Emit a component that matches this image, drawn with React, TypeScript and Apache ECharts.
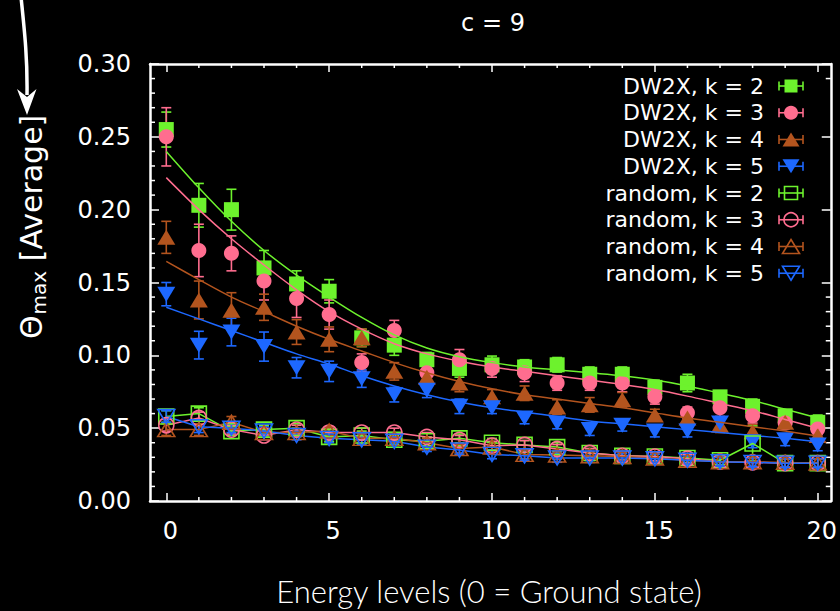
import React, { useEffect, useRef } from 'react';
import * as echarts from 'echarts';

// Energy levels (0 = ground state)
const levels = [0, 1, 2, 3, 4, 5, 6, 7, 8, 9, 10, 11, 12, 13, 14, 15, 16, 17, 18, 19, 20];

// D-Wave 2X averages and their error half-widths
const dw2xK2 = [0.255, 0.203, 0.200, 0.160, 0.149, 0.144, 0.112, 0.107, 0.097, 0.091, 0.0935, 0.092, 0.0935, 0.087, 0.087, 0.078, 0.081, 0.0715, 0.065, 0.0585, 0.054];
const dw2xK3 = [0.250, 0.172, 0.170, 0.151, 0.139, 0.128, 0.095, 0.117, 0.088, 0.097, 0.091, 0.088, 0.081, 0.081, 0.081, 0.0715, 0.0605, 0.064, 0.0585, 0.0536, 0.0495];
const dw2xK4 = [0.181, 0.138, 0.131, 0.133, 0.116, 0.111, 0.112, 0.089, 0.085, 0.081, 0.0715, 0.074, 0.0645, 0.066, 0.0695, 0.059, 0.057, 0.052, 0.0475, 0.054, 0.045];
const dw2xK5 = [0.142, 0.107, 0.116, 0.106, 0.0915, 0.089, 0.084, 0.073, 0.076, 0.065, 0.064, 0.057, 0.0536, 0.049, 0.052, 0.048, 0.048, 0.0536, 0.0406, 0.042, 0.0385];
const dw2xErrK2 = [0.012, 0.015, 0.014, 0.012, 0.009, 0.008, 0.006, 0.007, 0.005, 0.006, 0.006, 0.005, 0.005, 0.005, 0.005, 0.005, 0.006, 0.004, 0.005, 0.004, 0.005];
const dw2xErrK3 = [0.020, 0.018, 0.012, 0.013, 0.013, 0.010, 0.006, 0.007, 0.006, 0.007, 0.006, 0.006, 0.005, 0.005, 0.006, 0.005, 0.004, 0.006, 0.005, 0.004, 0.004];
const dw2xErrK4 = [0.011, 0.013, 0.012, 0.009, 0.0085, 0.0085, 0.006, 0.006, 0.006, 0.006, 0.005, 0.005, 0.005, 0.005, 0.005, 0.004, 0.005, 0.005, 0.005, 0.004, 0.004];
const dw2xErrK5 = [0.008, 0.0095, 0.0095, 0.010, 0.007, 0.007, 0.006, 0.005, 0.005, 0.005, 0.004, 0.004, 0.004, 0.004, 0.004, 0.004, 0.004, 0.004, 0.004, 0.004, 0.004];

// Fitted trend curves for the D-Wave 2X data
const fitK2 = [0.240, 0.215, 0.192, 0.172, 0.155, 0.140, 0.126, 0.114, 0.105, 0.099, 0.095, 0.092, 0.090, 0.088, 0.086, 0.083, 0.079, 0.074, 0.069, 0.063, 0.057];
const fitK3 = [0.222, 0.200, 0.180, 0.162, 0.145, 0.130, 0.118, 0.108, 0.101, 0.096, 0.092, 0.089, 0.086, 0.083, 0.080, 0.0765, 0.072, 0.067, 0.062, 0.056, 0.050];
const fitK4 = [0.1645, 0.152, 0.140, 0.130, 0.120, 0.111, 0.103, 0.095, 0.088, 0.082, 0.077, 0.073, 0.070, 0.067, 0.064, 0.0605, 0.057, 0.054, 0.051, 0.048, 0.0447];
const fitK5 = [0.133, 0.125, 0.117, 0.109, 0.101, 0.094, 0.086, 0.079, 0.073, 0.068, 0.064, 0.061, 0.058, 0.055, 0.053, 0.051, 0.049, 0.047, 0.045, 0.043, 0.0406];

// Random-instance averages and their error half-widths
const rndK2 = [0.058, 0.060, 0.048, 0.049, 0.050, 0.044, 0.045, 0.042, 0.041, 0.043, 0.040, 0.0385, 0.037, 0.033, 0.031, 0.0305, 0.0295, 0.028, 0.0395, 0.026, 0.026];
const rndK3 = [0.052, 0.057, 0.049, 0.045, 0.049, 0.047, 0.047, 0.047, 0.044, 0.042, 0.038, 0.0385, 0.0357, 0.033, 0.031, 0.0305, 0.029, 0.027, 0.0265, 0.026, 0.026];
const rndK4 = [0.049, 0.049, 0.054, 0.047, 0.047, 0.048, 0.043, 0.043, 0.040, 0.036, 0.037, 0.032, 0.0316, 0.031, 0.0305, 0.0295, 0.028, 0.027, 0.027, 0.0265, 0.026];
const rndK5 = [0.058, 0.051, 0.050, 0.048, 0.045, 0.043, 0.042, 0.041, 0.037, 0.035, 0.032, 0.031, 0.0296, 0.0295, 0.0295, 0.029, 0.028, 0.027, 0.0265, 0.026, 0.026];
const rndErrK2 = [0.004, 0.004, 0.003, 0.003, 0.003, 0.003, 0.003, 0.003, 0.003, 0.003, 0.003, 0.003, 0.003, 0.003, 0.003, 0.003, 0.003, 0.003, 0.012, 0.003, 0.003];
const rndErrK3 = [0.004, 0.004, 0.003, 0.003, 0.003, 0.003, 0.003, 0.003, 0.003, 0.003, 0.003, 0.003, 0.003, 0.003, 0.003, 0.003, 0.003, 0.003, 0.003, 0.003, 0.003];
const rndErrK4 = [0.004, 0.004, 0.004, 0.003, 0.003, 0.003, 0.003, 0.003, 0.003, 0.003, 0.003, 0.003, 0.003, 0.003, 0.003, 0.003, 0.003, 0.003, 0.003, 0.003, 0.003];
const rndErrK5 = [0.004, 0.004, 0.003, 0.003, 0.003, 0.003, 0.003, 0.003, 0.003, 0.003, 0.003, 0.003, 0.003, 0.003, 0.003, 0.003, 0.003, 0.003, 0.003, 0.003, 0.003];

const seriesNames = [
  'DW2X, k = 2', 'DW2X, k = 3', 'DW2X, k = 4', 'DW2X, k = 5',
  'random, k = 2', 'random, k = 3', 'random, k = 4', 'random, k = 5',
];

// Axis ticks
const X_MIN = -0.5;
const X_MAX = 20.4;
const Y_MIN = 0;
const Y_MAX = 0.3;
const xMajorTicks = [0, 5, 10, 15, 20];
const xMinorTicks = [1, 2, 3, 4, 6, 7, 8, 9, 11, 12, 13, 14, 16, 17, 18, 19];
const yLeftMinorTicks = [0.01, 0.02, 0.03, 0.04, 0.06, 0.07, 0.08, 0.09, 0.11, 0.12, 0.13, 0.14, 0.16, 0.17, 0.18, 0.19, 0.21, 0.22, 0.23, 0.24, 0.26, 0.27, 0.28, 0.29];
const yRightMinorTicks = [0.01, 0.02, 0.03, 0.04, 0.06, 0.07, 0.08, 0.09, 0.11, 0.12, 0.13, 0.14, 0.29];

const titleText = 'c = 9';
const xTitle = 'Energy levels (0 = Ground state)';

const GREEN = '#6df22d';
const PINK = '#ff6d8f';
const BROWN = '#b3541e';
const BLUE = '#1d68ff';
const WHITE = '#ffffff';
const FONT = '"DejaVu Sans", "Liberation Sans", sans-serif';

type Shape = 'square' | 'circle' | 'up' | 'down';

const symbolFor = (s: Shape) => (s === 'square' ? 'rect' : s === 'circle' ? 'circle' : 'triangle');
const symbolSizeFor = (s: Shape, hollow: boolean): number | number[] => {
  if (s === 'square') return 15;
  if (s === 'circle') return 15;
  return hollow ? [17, 14] : [18, 15];
};

function errorBars(name: string, ys: number[], errs: number[], color: string) {
  return {
    type: 'custom',
    name: name + ' err',
    silent: true,
    data: levels.map((x, i) => [x, ys[i] - errs[i], ys[i] + errs[i]]),
    encode: { x: 0, y: [1, 2] },
    renderItem: (_p: any, api: any) => {
      const x = api.value(0);
      const top = api.coord([x, api.value(2)]);
      const bot = api.coord([x, api.value(1)]);
      const half = 5;
      const st = { stroke: color, lineWidth: 1.6 };
      return {
        type: 'group',
        children: [
          { type: 'line', shape: { x1: top[0], y1: top[1], x2: bot[0], y2: bot[1] }, style: st },
          { type: 'line', shape: { x1: top[0] - half, y1: top[1], x2: top[0] + half, y2: top[1] }, style: st },
          { type: 'line', shape: { x1: bot[0] - half, y1: bot[1], x2: bot[0] + half, y2: bot[1] }, style: st },
        ],
      };
    },
  };
}

// Short inward tick marks along one edge of the frame
function minorTickSeries(name: string, points: number[][], dx: number, dy: number) {
  return {
    type: 'custom',
    name,
    silent: true,
    z: 1,
    data: points,
    encode: { x: 0, y: 1 },
    renderItem: (_p: any, api: any) => {
      const p = api.coord([api.value(0), api.value(1)]);
      return {
        type: 'line',
        shape: { x1: p[0], y1: p[1], x2: p[0] + dx, y2: p[1] + dy },
        style: { stroke: WHITE, lineWidth: 1.5 },
      };
    },
  };
}

function pointSeries(name: string, ys: number[], color: string, shape: Shape) {
  return {
    type: 'scatter',
    name,
    data: levels.map((x, i) => [x, ys[i]]),
    symbol: symbolFor(shape),
    symbolSize: symbolSizeFor(shape, false),
    symbolRotate: shape === 'down' ? 180 : 0,
    itemStyle: { color, opacity: 1 },
  };
}

function randomSeries(name: string, ys: number[], color: string, shape: Shape) {
  return {
    type: 'line',
    name,
    data: levels.map((x, i) => [x, ys[i]]),
    symbol: symbolFor(shape),
    symbolSize: symbolSizeFor(shape, true),
    symbolRotate: shape === 'down' ? 180 : 0,
    showSymbol: true,
    showAllSymbol: true,
    itemStyle: { color: 'rgba(0,0,0,0)', borderColor: color, borderWidth: 1.6 },
    lineStyle: { color, width: 1.5 },
  };
}

function fitSeries(name: string, ys: number[], color: string) {
  return {
    type: 'line',
    name: name + ' fit',
    z: 3,
    silent: true,
    smooth: 0.3,
    symbol: 'none',
    data: levels.map((x, i) => [x, ys[i]]),
    lineStyle: { color, width: 1.5 },
  };
}

const legendItems: { name: string; color: string; shape: Shape; hollow: boolean }[] = [
  { name: seriesNames[0], color: GREEN, shape: 'square', hollow: false },
  { name: seriesNames[1], color: PINK, shape: 'circle', hollow: false },
  { name: seriesNames[2], color: BROWN, shape: 'up', hollow: false },
  { name: seriesNames[3], color: BLUE, shape: 'down', hollow: false },
  { name: seriesNames[4], color: GREEN, shape: 'square', hollow: true },
  { name: seriesNames[5], color: PINK, shape: 'circle', hollow: true },
  { name: seriesNames[6], color: BROWN, shape: 'up', hollow: true },
  { name: seriesNames[7], color: BLUE, shape: 'down', hollow: true },
];

function legendGraphics() {
  const out: any[] = [];
  const textRight = 764;
  const cx = 791;
  legendItems.forEach((it, i) => {
    const cy = 86 + i * 26.75;
    out.push({
      type: 'text', x: textRight, y: cy,
      style: {
        text: it.name, fill: WHITE, font: `22px ${FONT}`,
        align: 'right', textAlign: 'right', verticalAlign: 'middle', textVerticalAlign: 'middle',
      },
    });
    const st = { stroke: it.color, lineWidth: 1.6 };
    out.push({ type: 'line', shape: { x1: cx - 12, y1: cy, x2: cx + 12, y2: cy }, style: st });
    out.push({ type: 'line', shape: { x1: cx - 12, y1: cy - 4.5, x2: cx - 12, y2: cy + 4.5 }, style: st });
    out.push({ type: 'line', shape: { x1: cx + 12, y1: cy - 4.5, x2: cx + 12, y2: cy + 4.5 }, style: st });
    const mstyle = it.hollow
      ? { fill: 'none', stroke: it.color, lineWidth: 1.6 }
      : { fill: it.color };
    if (it.shape === 'square') {
      out.push({ type: 'rect', shape: { x: cx - 6.5, y: cy - 6.5, width: 13, height: 13 }, style: mstyle });
    } else if (it.shape === 'circle') {
      out.push({ type: 'circle', shape: { cx, cy, r: 7 }, style: mstyle });
    } else if (it.shape === 'up') {
      out.push({ type: 'polygon', shape: { points: [[cx, cy - 7], [cx + 8.5, cy + 7], [cx - 8.5, cy + 7]] }, style: mstyle });
    } else {
      out.push({ type: 'polygon', shape: { points: [[cx, cy + 7], [cx + 8.5, cy - 7], [cx - 8.5, cy - 7]] }, style: mstyle });
    }
  });
  return out;
}

function measure(text: string, size: number) {
  const ctx = document.createElement('canvas').getContext('2d');
  if (!ctx) return text.length * size * 0.6;
  ctx.font = `${size}px ${FONT}`;
  return ctx.measureText(text).width;
}

export default function App() {
  const ref = useRef<HTMLDivElement>(null);

  useEffect(() => {
    if (!ref.current) return;
    const chart = echarts.init(ref.current, undefined, { renderer: 'svg' });

    const yMain = 30;
    const ySub = 20;
    const wTheta = measure('Θ', yMain);
    const wSub = measure('max', ySub);

    const axisLineStyle = { color: WHITE, width: 2.5 };
    const tickStyle = { color: WHITE, width: 1.5 };

    const option: any = {
      animation: false,
      backgroundColor: '#000000',
      grid: { left: 150, right: 7, top: 64, bottom: 110, containLabel: false },
      xAxis: [
        {
          type: 'value', position: 'bottom', min: X_MIN, max: X_MAX,
          axisLine: { show: true, onZero: false, lineStyle: axisLineStyle },
          axisTick: { show: true, inside: true, length: 8, customValues: xMajorTicks, lineStyle: tickStyle },
          axisLabel: {
            show: true, customValues: xMajorTicks, color: WHITE, fontSize: 24, fontFamily: FONT,
            margin: 18, padding: [0, 0, 0, 8],
          },
          splitLine: { show: false },
        },
        {
          type: 'value', position: 'top', min: X_MIN, max: X_MAX,
          axisLine: { show: true, onZero: false, lineStyle: axisLineStyle },
          axisTick: { show: true, inside: true, length: 8, customValues: xMajorTicks, lineStyle: tickStyle },
          axisLabel: { show: false },
          splitLine: { show: false },
        },
      ],
      yAxis: [
        {
          type: 'value', position: 'left', min: Y_MIN, max: Y_MAX, interval: 0.05,
          axisLine: { show: true, onZero: false, lineStyle: axisLineStyle },
          axisTick: { show: true, inside: true, length: 9, lineStyle: tickStyle },
          axisLabel: {
            color: WHITE, fontSize: 24, fontFamily: FONT, margin: 19,
            formatter: (v: number) => v.toFixed(2),
          },
          splitLine: { show: false },
        },
        {
          type: 'value', position: 'right', min: Y_MIN, max: Y_MAX, interval: 0.05,
          axisLine: { show: true, onZero: false, lineStyle: axisLineStyle },
          axisTick: { show: true, inside: true, length: 9, lineStyle: tickStyle },
          axisLabel: { show: false },
          splitLine: { show: false },
        },
      ],
      series: [
        minorTickSeries('y minor left', yLeftMinorTicks.map((v) => [X_MIN, v]), 5, 0),
        minorTickSeries('y minor right', yRightMinorTicks.map((v) => [X_MAX, v]), -5, 0),
        minorTickSeries('x minor bottom', xMinorTicks.map((v) => [v, Y_MIN]), 0, -4),
        minorTickSeries('x minor top', xMinorTicks.map((v) => [v, Y_MAX]), 0, 4),
        errorBars(seriesNames[0], dw2xK2, dw2xErrK2, GREEN),
        pointSeries(seriesNames[0], dw2xK2, GREEN, 'square'),
        errorBars(seriesNames[1], dw2xK3, dw2xErrK3, PINK),
        pointSeries(seriesNames[1], dw2xK3, PINK, 'circle'),
        errorBars(seriesNames[2], dw2xK4, dw2xErrK4, BROWN),
        pointSeries(seriesNames[2], dw2xK4, BROWN, 'up'),
        errorBars(seriesNames[3], dw2xK5, dw2xErrK5, BLUE),
        pointSeries(seriesNames[3], dw2xK5, BLUE, 'down'),
        errorBars(seriesNames[4], rndK2, rndErrK2, GREEN),
        randomSeries(seriesNames[4], rndK2, GREEN, 'square'),
        errorBars(seriesNames[5], rndK3, rndErrK3, PINK),
        randomSeries(seriesNames[5], rndK3, PINK, 'circle'),
        errorBars(seriesNames[6], rndK4, rndErrK4, BROWN),
        randomSeries(seriesNames[6], rndK4, BROWN, 'up'),
        errorBars(seriesNames[7], rndK5, rndErrK5, BLUE),
        randomSeries(seriesNames[7], rndK5, BLUE, 'down'),
        fitSeries(seriesNames[0], fitK2, GREEN),
        fitSeries(seriesNames[1], fitK3, PINK),
        fitSeries(seriesNames[2], fitK4, BROWN),
        fitSeries(seriesNames[3], fitK5, BLUE),
      ],
      graphic: [
        {
          type: 'text', x: 493, y: 23,
          style: {
            text: titleText, fill: WHITE, font: `24px ${FONT}`,
            align: 'center', textAlign: 'center', verticalAlign: 'middle', textVerticalAlign: 'middle',
          },
        },
        {
          type: 'text', x: 489, y: 591,
          style: {
            text: xTitle, fill: WHITE, font: `300 31px Lato, "Open Sans", sans-serif`,
            align: 'center', textAlign: 'center', verticalAlign: 'middle', textVerticalAlign: 'middle',
          },
        },
        {
          type: 'group', x: 31, y: 339, rotation: Math.PI / 2,
          children: [
            {
              type: 'text', x: 0, y: 0,
              style: { text: 'Θ', fill: WHITE, font: `${yMain}px ${FONT}`, verticalAlign: 'middle', textVerticalAlign: 'middle' },
            },
            {
              type: 'text', x: wTheta + 1, y: 8,
              style: { text: 'max', fill: WHITE, font: `${ySub}px ${FONT}`, verticalAlign: 'middle', textVerticalAlign: 'middle' },
            },
            {
              type: 'text', x: wTheta + 1 + wSub, y: 0,
              style: { text: ' [Average]', fill: WHITE, font: `${yMain}px ${FONT}`, verticalAlign: 'middle', textVerticalAlign: 'middle' },
            },
          ],
        },
        {
          type: 'bezierCurve',
          shape: { x1: 21, y1: -3, cpx1: 25, cpy1: 35, cpx2: 27.5, cpy2: 60, x2: 27, y2: 95 },
          style: { stroke: WHITE, lineWidth: 3.5, fill: null },
        },
        {
          type: 'polygon',
          shape: { points: [[17, 89], [27, 97], [36.5, 89], [27, 115]] },
          style: { fill: WHITE },
        },
        ...legendGraphics(),
      ],
    };

    chart.setOption(option);
    return () => chart.dispose();
  }, []);

  return (
    <div
      ref={ref}
      style={{ position: 'fixed', left: 0, top: 0, width: 840, height: 611, background: '#000' }}
    />
  );
}
